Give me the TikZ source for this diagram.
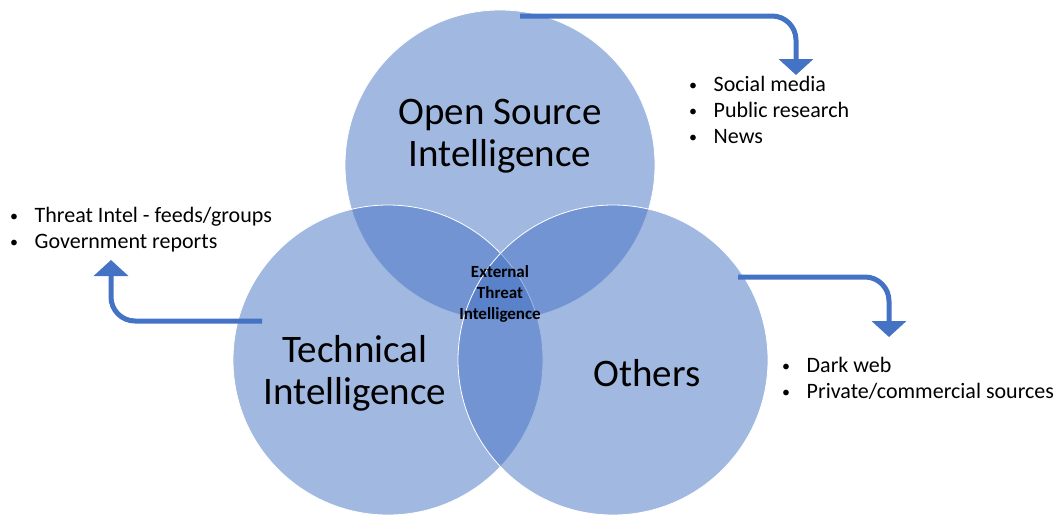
\documentclass[tikz,border=0pt]{standalone}
\usepackage{fontspec}
\setmainfont{Carlito}
\usetikzlibrary{arrows.meta}
\definecolor{venn}{HTML}{4472C4}
\definecolor{arrowblue}{HTML}{4472C4}
\newcommand{\blt}{\makebox[24.5pt][l]{\raisebox{1pt}{\fontsize{16}{16}\selectfont •}}}
\begin{document}
\begin{tikzpicture}[x=1pt,y=-1pt,
  venncircle/.style={circle, minimum size=310pt, inner sep=0pt, fill=venn, fill opacity=0.5, draw=white, draw opacity=1, line width=0.8pt},
  bigtext/.style={font=\fontsize{39}{42}\selectfont, align=center, inner sep=0pt},
  coretext/.style={font=\bfseries\fontsize{17}{21}\selectfont, align=center, inner sep=0pt},
  listtext/.style={font=\fontsize{22}{26}\selectfont, align=left, inner sep=0pt, anchor=base west},
  flow/.style={draw=arrowblue, line width=5pt, rounded corners=24pt, -{Triangle[width=34pt,length=16pt]}}]
\useasboundingbox (0,0) rectangle (1057,514);
\fill[white] (0,0) rectangle (1057,514);
% circles
\node[venncircle] (osi) at (500,165) {};
\node[venncircle] (tech) at (388,360) {};
\node[venncircle] (oth) at (613,360) {};
% labels
\node[bigtext] (osiL) at (500,136) {Open Source\\Intelligence};
\node[bigtext] (techL) at (355,373) {Technical\\Intelligence};
\node[bigtext] (othL) at (647,373) {Others};
\node[coretext] (core) at (500,294) {External\\Threat\\Intelligence};
% lists
\node[listtext] (osiList) at (689,91) {\begin{tabular}[t]{@{}l@{}}\blt Social media\\\blt Public research\\\blt News\end{tabular}};
\node[listtext] (techList) at (10,222) {\begin{tabular}[t]{@{}l@{}}\blt Threat Intel - feeds/groups\\\blt Government reports\end{tabular}};
\node[listtext] (othList) at (782,372) {\begin{tabular}[t]{@{}l@{}}\blt Dark web\\\blt Private/commercial sources\end{tabular}};
% connectors
\coordinate (a1s) at (520,16);
\coordinate (a1e) at (796,75);
\coordinate (a2s) at (262,321);
\coordinate (a2e) at (111,260);
\coordinate (a3s) at (738,277);
\coordinate (a3e) at (889,337);
\draw[flow] (a1s) -| (a1e);
\draw[flow] (a2s) -| (a2e);
\draw[flow] (a3s) -| (a3e);
\end{tikzpicture}
\end{document}
